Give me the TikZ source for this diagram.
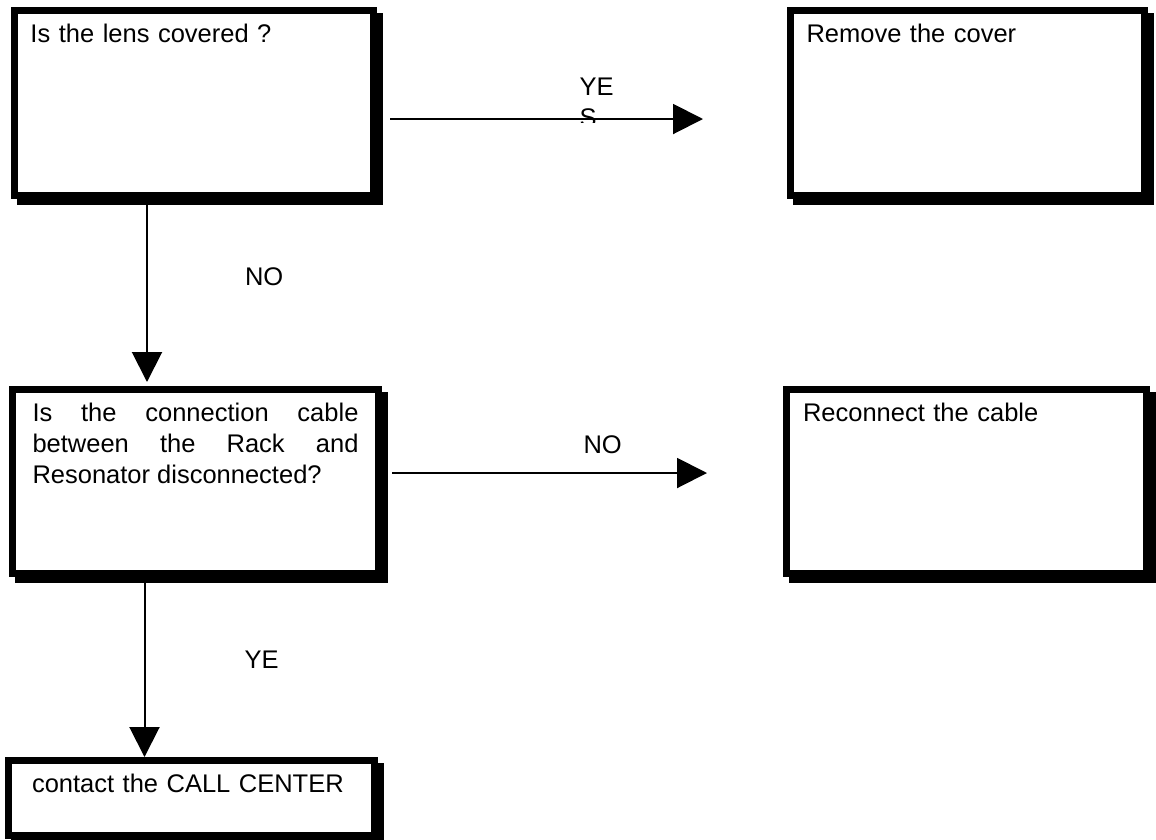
\documentclass[tikz,border=0pt]{standalone}
\usepackage{fontspec}
\setmainfont{Liberation Sans}
\newcommand{\chartfont}{\fontsize{25.5}{31.2}\selectfont\hyphenpenalty=10000\exhyphenpenalty=10000}
\tikzstyle{qbox}=[rectangle,draw=black,fill=white,line width=7pt,outer sep=0pt,
inner xsep=16pt,inner ysep=7pt,text height=24.5pt,align=left,font=\chartfont,
drop shadow={shadow xshift=6pt,shadow yshift=-6pt,opacity=1,fill=black,draw=black}]
\tikzstyle{lbl}=[inner sep=0pt,font=\chartfont,align=left]
\tikzstyle{flow}=[line width=2pt,-{Triangle[length=30pt,width=30pt]}]
\usetikzlibrary{positioning,shadows,arrows.meta}

\begin{document}
\begin{tikzpicture}
            \useasboundingbox (0,0) rectangle (1156pt,-839pt);

            % LENS PART

            \node[qbox,anchor=north west,text width=327pt,text depth=146.5pt] (lens) at (14.5pt,-10.5pt) {Is the lens covered ?};
            \node[qbox,right=417pt of lens,text width=322pt,text depth=146.5pt] (cover) {Remove the cover};

            % CABLE PART

            \node[qbox,below=194pt of lens.south west,anchor=north west,xshift=-2pt,
                inner xsep=20pt,text width=326pt,text depth=145.5pt,align=justify] (cable)
                {Is the connection cable between the Rack and Resonator disconnected?};
            \node[qbox,right=408pt of cable,inner xsep=16.5pt,text width=327pt,text depth=145.5pt] (recon) {Reconnect the cable};

            \node[qbox,below=187pt of cable.south west,anchor=north west,xshift=-4pt,
                inner xsep=23.5pt,text width=319pt,text depth=36.5pt] (call) {contact the CALL CENTER};

            % Answers

            \coordinate (yes) at ([yshift=-16pt]lens.east);
            \draw[flow,shorten <=16.5pt,shorten >=87.5pt] (yes) -- (yes -| cover.west);
            \begin{scope}
                \clip ([yshift=-19pt]lens.east) rectangle (cover.north west);
                \path (yes) -- (yes -| cover.west) node[lbl,pos=0.494,anchor=north west,yshift=41pt] (lyes) {YE\\S};
            \end{scope}

            \coordinate (no) at ([xshift=-47pt]lens.south);
            \draw[flow,shorten <=9.5pt,shorten >=7.5pt] (no) -- (no |- cable.north)
                node[lbl,pos=0.466,anchor=base west,xshift=97pt] (lno) {NO};

            \coordinate (cut) at ([yshift=8.5pt]cable.east);
            \draw[flow,shorten <=13.5pt,shorten >=79.5pt] (cut) -- (cut -| recon.west)
                node[lbl,pos=0.5,anchor=base west,yshift=20pt] (lcut) {NO};

            \coordinate (help) at ([xshift=-51pt]cable.south);
            \draw[flow,shorten <=9.5pt,shorten >=3.5pt] (help) -- (help |- call.north)
                node[lbl,pos=0.51,anchor=base west,xshift=99pt] (lhelp) {YE};

\end{tikzpicture}
\end{document}
